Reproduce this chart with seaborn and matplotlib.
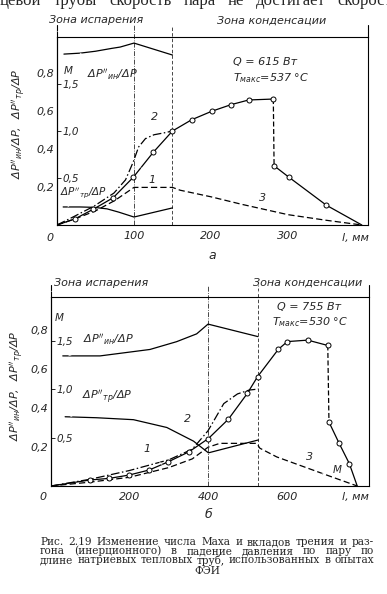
import matplotlib
matplotlib.use("Agg")
import matplotlib.pyplot as plt
import seaborn as sns
from matplotlib.ticker import FuncFormatter, FixedLocator

sns.set_style("white")
plt.rcParams["font.family"] = ["DejaVu Sans"]
plt.rcParams["font.style"] = "italic"
plt.rcParams["mathtext.fontset"] = "dejavusans"
plt.rcParams["axes.edgecolor"] = "black"
plt.rcParams["axes.linewidth"] = 0.8

# ---- panel a: Q = 615 W ----
a_zones = [100, 150]            # end of evaporation / start of condensation, mm
a_l_exp = [0, 23, 47, 73, 99, 125, 150, 175, 201, 226, 249, 281]
a_m_exp = [0, 0.064, 0.167, 0.29, 0.507, 0.773, 1.0, 1.12, 1.21, 1.28, 1.33, 1.34]
a_l_exp2 = [282, 301, 350, 396]
a_m_exp2 = [0.63, 0.51, 0.21, 0]
a_l_calc2 = [0, 22, 48, 74, 89, 99, 106, 115, 126, 139, 150]
a_m_calc2 = [0, 0.09, 0.2, 0.34, 0.48, 0.67, 0.83, 0.92, 0.96, 0.98, 1.0]
a_l_calc3 = [0, 25, 50, 75, 100, 150, 160, 200, 240, 300, 350, 396]
a_m_calc3 = [0, 0.07, 0.15, 0.26, 0.40, 0.40, 0.37, 0.30, 0.22, 0.11, 0.05, 0]
a_l_in = [9, 30, 50, 71, 82, 100, 150]
a_in = [0.90, 0.905, 0.915, 0.93, 0.937, 0.958, 0.895]
a_l_tr = [8, 30, 48, 65, 80, 100, 150]
a_tr = [0.095, 0.095, 0.093, 0.085, 0.068, 0.042, 0.09]

# ---- panel b: Q = 755 W ----
b_zones = [400, 527]
b_l_exp = [0, 99, 149, 199, 250, 299, 352, 401, 452, 500, 526, 579, 602, 654, 705]
b_m_exp = [0, 0.062, 0.079, 0.113, 0.165, 0.25, 0.354, 0.49, 0.69, 0.955, 1.127,
           1.41, 1.49, 1.505, 1.45]
b_l_exp2 = [708, 734, 760, 780]
b_m_exp2 = [0.66, 0.44, 0.23, 0]
b_l_calc2 = [0, 100, 200, 300, 360, 400, 440, 475, 505, 528]
b_m_calc2 = [0, 0.07, 0.16, 0.27, 0.38, 0.57, 0.85, 0.95, 0.99, 1.0]
b_l_calc3 = [0, 100, 200, 300, 360, 400, 430, 524, 532, 575, 643, 711, 780]
b_m_calc3 = [0, 0.04, 0.09, 0.19, 0.28, 0.40, 0.44, 0.44, 0.39, 0.30, 0.20, 0.10, 0]
b_l_in = [30, 125, 252, 320, 371, 400, 527]
b_in = [0.667, 0.667, 0.70, 0.74, 0.78, 0.83, 0.766]
b_l_tr = [36, 116, 210, 295, 363, 401, 528]
b_tr = [0.355, 0.35, 0.34, 0.30, 0.23, 0.17, 0.236]

y_ticks = [0.2, 0.4, 0.6, 0.8]
m_ticks = [0.5, 1.0, 1.5]

DASH = (0, (5, 2.5))
DASHDOT = (0, (7, 2, 1.2, 2))
LW = 0.9


def comma(v, _):
    return f"{v:.1f}".replace(".", ",")


def setup_panel(fig, rect, xlim, ylim, mlim, xticks):
    ax = fig.add_axes(rect)
    ax.set_xlim(*xlim)
    ax.set_ylim(*ylim)
    ax.xaxis.set_major_locator(FixedLocator(xticks))
    ax.yaxis.set_major_locator(FixedLocator(y_ticks))
    ax.yaxis.set_major_formatter(FuncFormatter(comma))
    ax.tick_params(axis="x", direction="in", length=3, pad=4, labelsize=8)
    ax.tick_params(axis="y", length=0, pad=2, labelsize=8)
    axm = ax.twinx()
    axm.set_ylim(*mlim)
    axm.spines["right"].set_position(("axes", 0))
    for s in ["left", "top", "bottom"]:
        axm.spines[s].set_visible(False)
    axm.yaxis.set_major_locator(FixedLocator(m_ticks))
    axm.yaxis.set_major_formatter(FuncFormatter(comma))
    axm.tick_params(axis="y", direction="out", length=3, pad=1, labelsize=7.5, width=0.7)
    ax.set_xlabel("")
    ax.set_ylabel("")
    axm.set_ylabel("")
    return ax, axm


def draw_panel(ax, axm, zones, l_exp, m_exp, l_exp2, m_exp2, l_c2, m_c2,
               l_c3, m_c3, l_in, v_in, l_tr, v_tr):
    kw = dict(color="k", lw=LW, sort=False, estimator=None, legend=False)
    sns.lineplot(x=l_in, y=v_in, ax=ax, **kw)
    sns.lineplot(x=l_tr, y=v_tr, ax=ax, **kw)
    sns.lineplot(x=l_exp, y=m_exp, ax=axm, **kw)
    sns.lineplot(x=l_exp2, y=m_exp2, ax=axm, **kw)
    sns.lineplot(x=[l_exp[-1], l_exp2[0]], y=[m_exp[-1], m_exp2[0]], ax=axm,
                 linestyle=(0, (4, 2)), **kw)
    sns.lineplot(x=l_c2, y=m_c2, ax=axm, linestyle=DASHDOT, **kw)
    sns.lineplot(x=l_c3, y=m_c3, ax=axm, linestyle=DASH, **kw)
    sns.scatterplot(x=l_exp[1:] + l_exp2[:-1], y=m_exp[1:] + m_exp2[:-1], ax=axm,
                    marker="o", s=13, facecolor="white", edgecolor="k",
                    linewidth=0.7, zorder=5, legend=False)
    tr = ax.get_xaxis_transform()
    ax.plot([zones[0]] * 2, [0, 1.064], transform=tr, clip_on=False, color="k",
            lw=0.5, linestyle=DASHDOT)
    ax.plot([zones[1]] * 2, [0, 1.064], transform=tr, clip_on=False, color="k",
            lw=0.5, linestyle=(0, (5, 3)))
    for xa in [0, 1]:
        ax.plot([xa, xa], [1, 1.064], transform=ax.transAxes, clip_on=False,
                color="k", lw=0.8)
    x0, x1 = ax.get_xlim()
    arr = dict(arrowstyle="<->", lw=0.6, shrinkA=0, shrinkB=0, mutation_scale=6)
    ax.annotate("", xy=(x0, 1.03), xytext=(zones[0], 1.03),
                xycoords=tr, textcoords=tr, arrowprops=arr)
    ax.annotate("", xy=(zones[1], 1.03), xytext=(x1, 1.03),
                xycoords=tr, textcoords=tr, arrowprops=arr)


W, H = 387, 594
fig = plt.figure(figsize=(W / 100, H / 100), dpi=100)

lead = dict(arrowstyle="-", lw=0.5, shrinkA=1, shrinkB=0)
ylab = r"$\Delta P''_{ин}/\Delta P,\;\;\Delta P''_{тр}/\Delta P$"
lab_in = r"$\Delta P''_{ин}/\Delta P$"
lab_tr = r"$\Delta P''_{тр}/\Delta P$"

# panel a
ax_a, am_a = setup_panel(fig, [57 / W, 1 - 225 / H, 311 / W, 188 / H],
                         (0, 404), (0, 0.99), (0, 2.0), [100, 200, 300])
draw_panel(ax_a, am_a, a_zones, a_l_exp, a_m_exp, a_l_exp2, a_m_exp2,
           a_l_calc2, a_m_calc2, a_l_calc3, a_m_calc3, a_l_in, a_in, a_l_tr, a_tr)
ax_a.text(-0.12, 0.54, ylab, rotation=90, ha="center", va="center",
          fontsize=8, transform=ax_a.transAxes)
ax_a.text(0.125, 1.09, "Зона испарения", ha="center", va="center", fontsize=8,
          transform=ax_a.transAxes)
ax_a.text(0.69, 1.09, "Зона конденсации", ha="center", va="center", fontsize=8,
          transform=ax_a.transAxes)
ax_a.text(0.566, 0.867, "Q = 615 Вт", ha="left", va="center", fontsize=8,
          transform=ax_a.transAxes)
ax_a.text(0.566, 0.782, r"$T_{макс}$=537 °C", ha="left", va="center", fontsize=8,
          transform=ax_a.transAxes)
ax_a.text(0.02, 0.82, "M", ha="left", va="center", fontsize=7.5,
          transform=ax_a.transAxes)
ax_a.text(-0.023, -0.069, "0", ha="center", va="center", fontsize=8,
          transform=ax_a.transAxes)
ax_a.text(0.958, -0.069, "l, мм", ha="center", va="center", fontsize=8,
          transform=ax_a.transAxes)
ax_a.text(0.498, -0.16, "а", ha="center", va="center", fontsize=9,
          transform=ax_a.transAxes)
ax_a.annotate(lab_in, xy=(30, 0.905), xytext=(0.096, 0.80), textcoords="axes fraction",
              ha="left", va="center", fontsize=8, arrowprops=lead)
ax_a.annotate(lab_tr, xy=(14, 0.095), xytext=(0.01, 0.172), textcoords="axes fraction",
              ha="left", va="center", fontsize=7.5, arrowprops=lead)
am_a.annotate("2", xy=(116, 0.93), xytext=(0.315, 0.574), textcoords="axes fraction",
              ha="center", va="center", fontsize=8, arrowprops=lead)
am_a.annotate("1", xy=(109, 0.61), xytext=(0.305, 0.24), textcoords="axes fraction",
              ha="center", va="center", fontsize=8, arrowprops=lead)
am_a.annotate("3", xy=(250, 0.20), xytext=(0.662, 0.144), textcoords="axes fraction",
              ha="center", va="center", fontsize=8, arrowprops=lead)

# panel b
ax_b, am_b = setup_panel(fig, [51 / W, 1 - 486 / H, 318 / W, 189 / H],
                         (0, 810), (0, 0.969), (0, 1.95), [200, 400, 600])
draw_panel(ax_b, am_b, b_zones, b_l_exp, b_m_exp, b_l_exp2, b_m_exp2,
           b_l_calc2, b_m_calc2, b_l_calc3, b_m_calc3, b_l_in, b_in, b_l_tr, b_tr)
ax_b.text(-0.107, 0.53, ylab, rotation=90, ha="center", va="center",
          fontsize=8, transform=ax_b.transAxes)
ax_b.text(0.157, 1.074, "Зона испарения", ha="center", va="center", fontsize=8,
          transform=ax_b.transAxes)
ax_b.text(0.808, 1.074, "Зона конденсации", ha="center", va="center", fontsize=8,
          transform=ax_b.transAxes)
ax_b.text(0.711, 0.947, "Q = 755 Вт", ha="left", va="center", fontsize=8,
          transform=ax_b.transAxes)
ax_b.text(0.695, 0.868, r"$T_{макс}$=530 °C", ha="left", va="center", fontsize=8,
          transform=ax_b.transAxes)
ax_b.text(0.012, 0.889, "M", ha="left", va="center", fontsize=7.5,
          transform=ax_b.transAxes)
ax_b.text(-0.025, -0.058, "0", ha="center", va="center", fontsize=8,
          transform=ax_b.transAxes)
ax_b.text(0.956, -0.058, "l, мм", ha="center", va="center", fontsize=8,
          transform=ax_b.transAxes)
ax_b.text(0.494, -0.153, "б", ha="center", va="center", fontsize=9,
          transform=ax_b.transAxes)
ax_b.annotate(lab_in, xy=(45, 0.667), xytext=(0.10, 0.772), textcoords="axes fraction",
              ha="left", va="center", fontsize=8, arrowprops=lead)
ax_b.annotate(lab_tr, xy=(50, 0.355), xytext=(0.097, 0.471), textcoords="axes fraction",
              ha="left", va="center", fontsize=8, arrowprops=lead)
am_b.annotate("2", xy=(385, 0.49), xytext=(0.428, 0.354), textcoords="axes fraction",
              ha="center", va="center", fontsize=8, arrowprops=lead)
am_b.annotate("1", xy=(283, 0.22), xytext=(0.302, 0.196), textcoords="axes fraction",
              ha="center", va="center", fontsize=8, arrowprops=lead)
am_b.annotate("3", xy=(629, 0.22), xytext=(0.814, 0.153), textcoords="axes fraction",
              ha="center", va="center", fontsize=8, arrowprops=lead)
am_b.annotate("M", xy=(690, 0.13), xytext=(0.90, 0.085), textcoords="axes fraction",
              ha="center", va="center", fontsize=7.5, arrowprops=lead)

# caption (justified) and the cut book line at the very top
renderer = fig.canvas.get_renderer()
serif = dict(family="DejaVu Serif", fontstyle="normal", fontsize=7.6, va="center")


def justify(words, x0, x1, y, **kw):
    texts = [fig.text(0, 1 - y / H, w, ha="left", **kw) for w in words]
    widths = [t.get_window_extent(renderer).width for t in texts]
    gap = ((x1 - x0) - sum(widths)) / max(len(words) - 1, 1)
    x = x0
    for t, w in zip(texts, widths):
        t.set_x(x / W)
        x += w + gap


justify("Рис. 2.19 Изменение числа Маха и вкладов трения и раз-".split(), 40, 374, 542, **serif)
justify("гона (инерционного) в падение давления по пару по".split(), 40, 374, 551, **serif)
justify("длине натриевых тепловых труб, использованных в опытах".split(), 40, 374, 560, **serif)
fig.text(207 / W, 1 - 571 / H, "ФЭИ", ha="center", **serif)

top = dict(family="Liberation Serif", fontstyle="normal", fontsize=12, va="baseline")
justify("цевой трубы скорость пара не достигает скорост".split(), 0, 392, 5, **top)

fig.savefig("out.png", dpi=100)
